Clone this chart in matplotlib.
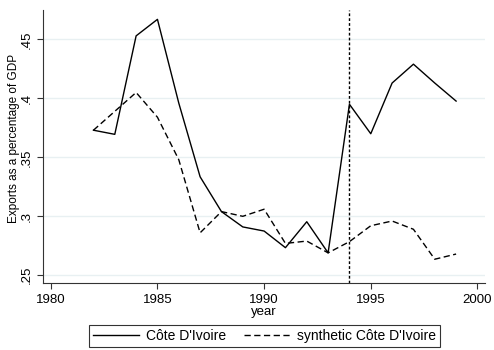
import matplotlib
matplotlib.use("Agg")
import matplotlib.pyplot as plt

plt.rcParams['font.family'] = ['Liberation Sans', 'DejaVu Sans']

years = list(range(1982, 2000))
civ = [0.373, 0.3695, 0.453, 0.467, 0.396, 0.3335, 0.304, 0.291, 0.2875,
       0.2734, 0.2954, 0.269, 0.395, 0.370, 0.413, 0.429, 0.413, 0.3977]
synth = [0.373, 0.389, 0.405, 0.384, 0.348, 0.286, 0.304, 0.300, 0.306,
         0.277, 0.279, 0.269, 0.2785, 0.292, 0.296, 0.289, 0.2636, 0.268]
treat_year = 1994
xticks = [1980, 1985, 1990, 1995, 2000]
yticks = [0.25, 0.3, 0.35, 0.4, 0.45]
ylabels = ['.25', '.3', '.35', '.4', '.45']

fig = plt.figure(figsize=(4.94, 3.5), dpi=100)
ax = fig.add_axes([0.0864, 0.1906, 0.8956, 0.7804])

for y in yticks:
    ax.axhline(y, color='#e8f0f2', lw=1, zorder=0)

ax.plot(years, civ, color='black', lw=1, label="Côte D'Ivoire")
ax.plot(years, synth, color='black', lw=1, ls=(0, (4.5, 2.5)), label="synthetic Côte D'Ivoire")
ax.axvline(treat_year, color='black', lw=1, ls=(0, (2, 1.5)))

ax.set_xlim(1979.62, 2000.36)
ax.set_ylim(0.2432, 0.4748)
ax.set_xticks(xticks)
ax.set_yticks(yticks)
ax.set_yticklabels(ylabels, rotation=90, va='center')
ax.tick_params(labelsize=9.5, length=4, width=0.8, color='#333333')
ax.spines['top'].set_visible(False)
ax.spines['right'].set_visible(False)
ax.spines['left'].set_color('#333333')
ax.spines['bottom'].set_color('#333333')
ax.set_xlabel('year', fontsize=9.5, labelpad=0)
ax.set_ylabel('Exports as a percentage of GDP', fontsize=8.5)
ax.yaxis.set_label_coords(-0.051, 0.532)

leg = ax.legend(loc='upper center', bbox_to_anchor=(0.5015, -0.153), ncol=2,
                fontsize=10, frameon=True, fancybox=False, edgecolor='black',
                handlelength=3.3, handletextpad=0.5, columnspacing=1.3,
                borderpad=0.3, borderaxespad=0)
leg.get_frame().set_linewidth(0.8)

fig.savefig('out.png', dpi=100)
